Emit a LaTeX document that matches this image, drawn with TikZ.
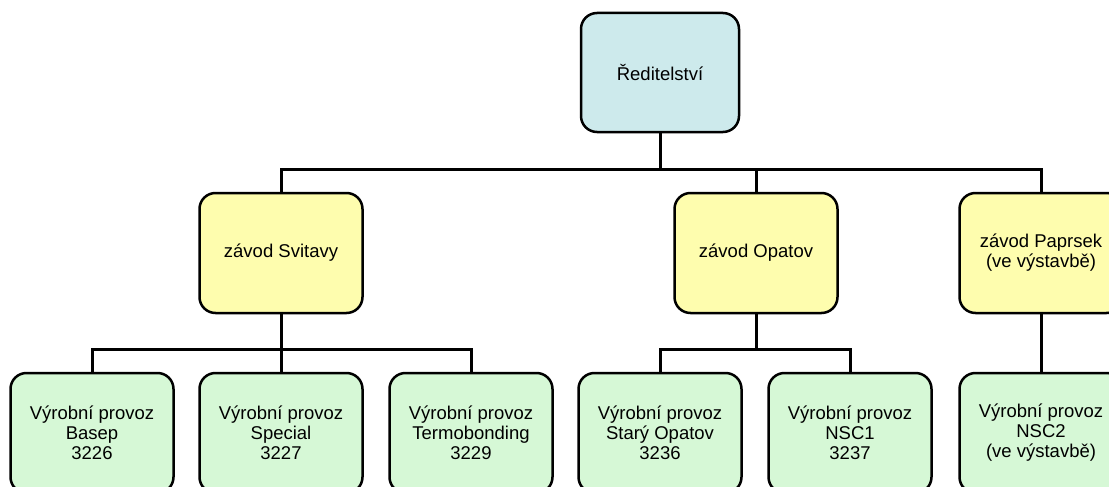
\documentclass[tikz,border=0pt]{standalone}
\usepackage{fontspec}
\setmainfont{Liberation Sans}
\definecolor{topblue}{HTML}{CDEAEC}
\definecolor{midyellow}{HTML}{FEFDAE}
\definecolor{lowgreen}{HTML}{D6F8D6}
\begin{document}
\begin{tikzpicture}[x=1pt,y=-1pt,
  orgbox/.style={draw=black, line width=2.5pt, rounded corners=16pt, align=center,
    minimum width=163pt, minimum height=120pt, inner sep=0pt,
    font=\fontsize{18.5}{20}\selectfont},
  topbox/.style={orgbox, fill=topblue, minimum width=158pt, minimum height=119pt},
  midbox/.style={orgbox, fill=midyellow},
  lowbox/.style={orgbox, fill=lowgreen},
  link/.style={draw=black, line width=3pt}]
\useasboundingbox (0,0) rectangle (1109,487);
\clip (0,0) rectangle (1109,487);
% top
\node[topbox] (top) at (660,72.5) {Ředitelství};
% level 2
\node[midbox] (sv) at (281,253) {závod Svitavy};
\node[midbox] (op) at (756,253) {závod Opatov};
\node[midbox] (pa) at (1041,253) {závod Paprsek\\(ve výstavbě)};
% level 3
\node[lowbox] (ba) at (92,433) {Výrobní provoz\\Basep\\3226};
\node[lowbox] (sp) at (281,433) {Výrobní provoz\\Special\\3227};
\node[lowbox] (te) at (471,433) {Výrobní provoz\\Termobonding\\3229};
\node[lowbox] (so) at (660,433) {Výrobní provoz\\Starý Opatov\\3236};
\node[lowbox] (n1) at (850,433) {Výrobní provoz\\NSC1\\3237};
\node[lowbox] (n2) at (1041,433) {Výrobní provoz\\NSC2\\(ve výstavbě)};
% bus coordinates
\coordinate (b1) at (660,169);
\coordinate (b2) at (281,349);
\coordinate (b3) at (756,349);
% connectors
\draw[link] (top.south) -- (b1);
\draw[link] (sv.north) -- (sv.north |- b1) -- (pa.north |- b1) -- (pa.north);
\draw[link] (op.north) -- (op.north |- b1);
\draw[link] (sv.south) -- (b2);
\draw[link] (ba.north) -- (ba.north |- b2) -- (te.north |- b2) -- (te.north);
\draw[link] (sp.north) -- (b2);
\draw[link] (op.south) -- (b3);
\draw[link] (so.north) -- (so.north |- b3) -- (n1.north |- b3) -- (n1.north);
\draw[link] (pa.south) -- (n2.north);
\end{tikzpicture}
\end{document}
